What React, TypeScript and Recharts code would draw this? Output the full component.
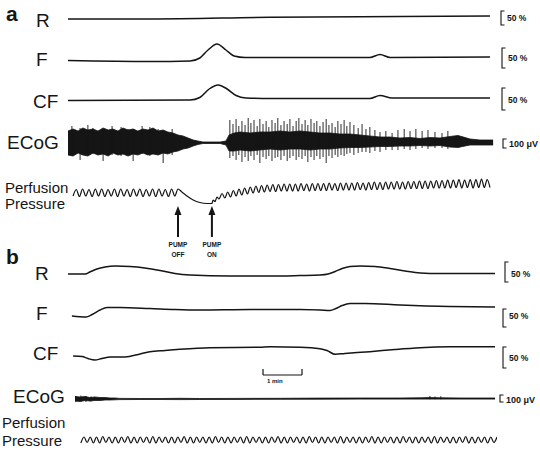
import React from 'react';
import { ComposedChart, Line, Area, XAxis, YAxis, ReferenceDot, ReferenceLine } from 'recharts';

// time in minutes from the left edge of each record (scale bar = 1 min)
// R, F, CF in % change; ECoG in µV; perfusion pressure in mmHg (arbitrary zero)

// ---- panel a ----
const rA = [[0, 2.5], [2.1, 2.5], [5.18, 6.75], [8.51, 8.75], [10.82, 10]];
const fA = [
  [0, -1.25], [2.1, -3.75], [3.13, -2.5], [3.38, 5], [3.59, 25], [3.82, 40], [4.05, 25],
  [4.26, 10], [4.54, 6.25], [5.18, 6.25], [7.74, 6.25], [8.0, 13.75], [8.26, 6.25], [10.82, 7.5],
];
const cfA = [
  [0, -1.25], [3.13, 0], [3.38, 6.25], [3.62, 27.5], [3.85, 37.5], [4.08, 27.5], [4.31, 11.25],
  [4.56, 5], [5.18, 3.75], [7.74, 3.75], [8.0, 11.25], [8.31, 5], [10.82, 5],
];
// ECoG envelope [t, upper, lower]
const ecogEnvA = [
  [0, 120, -120], [0.13, 140, -130], [0.26, 120, -100], [0.38, 150, -120], [0.51, 130, -130],
  [0.64, 140, -100], [0.77, 120, -120], [0.9, 150, -110], [1.03, 130, -130], [1.15, 140, -100],
  [1.28, 120, -120], [1.41, 150, -110], [1.54, 130, -130], [1.67, 140, -110], [1.79, 120, -120],
  [1.92, 140, -100], [2.05, 130, -120], [2.18, 150, -110], [2.31, 120, -120], [2.44, 130, -100],
  [2.56, 110, -110], [2.69, 100, -90], [2.82, 80, -80], [2.95, 70, -60], [3.08, 50, -50],
  [3.21, 30, -30], [3.33, 20, -15], [3.46, 10, -5], [3.64, 10, -5], [3.9, 10, -5], [4.05, 20, -20],
  [4.13, 80, -80], [4.26, 100, -80], [4.41, 110, -70], [4.67, 100, -80], [4.92, 110, -70],
  [5.18, 110, -60], [5.44, 120, -70], [5.69, 110, -60], [5.95, 120, -60], [6.21, 110, -70],
  [6.46, 100, -60], [6.72, 100, -60], [6.97, 90, -50], [7.23, 90, -45], [7.49, 80, -45],
  [7.74, 70, -40], [8.0, 60, -35], [8.26, 60, -35], [8.51, 50, -30], [8.77, 55, -30],
  [9.03, 45, -25], [9.28, 55, -30], [9.54, 50, -25], [9.79, 65, -40], [10.0, 75, -45],
  [10.18, 55, -30], [10.31, 40, -20], [10.56, 30, -20], [10.9, 30, -20],
];
// ECoG spikes [t, top, bottom]
const ecogSpikesA = [
  [0.1, 170, -130], [0.31, 150, -170], [0.51, 180, -120], [0.64, 150, -110], [0.9, 130, -180],
  [1.13, 170, -120], [1.36, 160, -130], [1.54, 140, -120], [1.67, 140, -180], [1.9, 170, -110],
  [2.1, 160, -130], [2.31, 140, -110], [2.44, 120, -200], [2.67, 140, -120],
  [4.15, 230, -150], [4.23, 190, -130], [4.31, 240, -170], [4.38, 170, -120], [4.46, 220, -190],
  [4.54, 180, -140], [4.62, 250, -180], [4.69, 200, -130], [4.77, 230, -170], [4.85, 170, -120],
  [4.92, 240, -200], [5.0, 190, -140], [5.08, 220, -160], [5.15, 160, -130], [5.23, 230, -180],
  [5.31, 200, -150], [5.38, 250, -140], [5.46, 180, -170], [5.54, 220, -130], [5.62, 190, -180],
  [5.69, 240, -150], [5.77, 170, -130], [5.85, 220, -170], [5.92, 250, -140], [6.0, 190, -160],
  [6.08, 230, -130], [6.15, 180, -190], [6.23, 240, -140], [6.31, 200, -170], [6.38, 220, -130],
  [6.46, 170, -160], [6.54, 210, -140], [6.62, 240, -200], [6.69, 180, -130], [6.77, 200, -150],
  [6.85, 160, -120], [6.92, 220, -140], [7.0, 190, -120], [7.08, 230, -130], [7.15, 170, -110],
  [7.23, 210, -100], [7.33, 180, -120], [7.44, 150, -100], [7.54, 190, -90], [7.64, 140, -90],
  [7.74, 160, -100], [7.87, 130, -80], [8.0, 110, -90], [8.15, 120, -70], [8.31, 100, -70],
  [8.46, 130, -70], [8.62, 140, -60], [8.77, 120, -70], [8.92, 140, -60], [9.08, 120, -50],
  [9.23, 130, -60], [9.41, 110, -50], [9.59, 100, -50], [9.74, 120, -60],
];
// perfusion pressure: cycles as [low, high] before pump off, [high, low] after pump on
const pressA1 = [
  [88, 101], [87, 102], [88, 101], [87, 102], [88, 102], [87, 101], [88, 102], [87, 102], [88, 101],
  [87, 102], [88, 102], [87, 101], [88, 102], [87, 102], [88, 101], [87, 102], [88, 102],
];
const pressA1Span = [0.13, 2.82];
const pressADrop = [
  [2.92, 96], [3.05, 88], [3.21, 80], [3.38, 75], [3.56, 73], [3.69, 73], [3.72, 80],
  [3.77, 77], [3.82, 86], [3.87, 82],
];
const pressA2 = [
  [93, 84], [96, 86], [99, 88], [102, 90], [104, 92], [106, 94], [108, 95], [109, 96], [110, 97],
  [111, 97], [111, 98], [112, 98], [112, 98], [112, 98], [113, 99], [112, 98], [113, 99], [113, 99],
  [113, 99], [114, 100], [113, 99], [114, 100], [114, 100], [114, 100], [115, 101], [114, 100],
  [115, 101], [116, 101], [115, 101], [116, 102], [116, 102], [117, 102], [116, 102], [117, 103],
  [117, 103], [118, 103], [118, 103], [118, 104], [119, 104], [119, 104], [120, 104], [120, 105],
  [121, 104], [120, 105], [121, 104], [121, 105], [122, 105], [121, 105],
];
const pressA2Span = [3.95, 10.82];
const pumpEvents = [{ t: 2.82, word: 'OFF' }, { t: 3.69, word: 'ON' }];

// ---- panel b ----
const rB = [
  [0, -10], [0.44, -10], [0.56, -5], [0.74, 2.5], [0.95, 7.5], [1.21, 10], [1.59, 8.75], [1.97, 5],
  [2.36, -1.25], [2.74, -8.75], [3.13, -12.5], [4.15, -15], [5.18, -15], [5.95, -13.75], [6.46, -12.5],
  [6.67, -10], [6.85, -3.75], [7.03, 3.75], [7.23, 8.75], [7.49, 10], [7.87, 8.75], [8.26, 3.75],
  [8.64, -2.5], [9.03, -7.5], [9.54, -8.75], [10.95, -8.75],
];
const fB = [
  [0.1, -10], [0.46, -12.5], [0.62, -6.25], [0.82, 5], [1.0, 11.25], [1.33, 11.25], [2.1, 8.75],
  [2.74, 6.25], [3.38, 5], [4.67, 6.25], [5.95, 6.25], [6.46, 5], [6.72, 3.75], [6.87, 8.75],
  [7.03, 16.25], [7.23, 21.25], [7.62, 21.25], [8.51, 17.5], [9.79, 13.75], [10.95, 12.5],
];
const cfB = [
  [0.13, -10], [0.36, -11.25], [0.51, -16.25], [0.69, -20], [0.87, -16.25], [1.08, -12.5],
  [1.46, -12.5], [1.85, -5], [2.1, 0.75], [2.49, 3.75], [2.87, 6.75], [3.64, 10.75], [4.92, 11.75],
  [5.18, 13], [5.95, 12], [6.46, 8.25], [6.64, 3.75], [6.85, -5.75], [7.1, -3.75], [7.74, 0.75],
  [8.38, 6.25], [9.03, 10.75], [9.79, 13], [10.95, 13.25],
];
const ecogEnvB = [
  [0.18, 25, -20], [0.31, 20, -25], [0.44, 25, -15], [0.56, 15, -20], [0.69, 20, -15], [0.82, 15, -15],
  [0.95, 15, -10], [1.08, 10, -10], [1.21, 10, -8], [1.33, 6, -6], [1.85, 5, -5], [2.36, 5, -5],
  [2.87, 7, -6], [3.38, 5, -5], [4.41, 6, -4], [5.44, 7, -3], [6.46, 9, -2], [7.49, 10, -1],
  [8.51, 10, -1], [9.03, 12, -1], [9.28, 14, -1], [9.54, 12, -1], [10.05, 10, -1], [10.95, 10, -1],
];
const ecogSpikesB = [
  [0.2, 30, -30], [0.33, 35, -25], [0.46, 30, -30], [0.59, 25, -25],
  [9.28, 30, -3], [9.41, 25, -3], [9.56, 28, -3],
];
const pressB = [
  [34, 46], [35, 46], [34, 46], [34, 47], [35, 46], [34, 46], [34, 46], [35, 47], [34, 46], [34, 46],
  [35, 46], [34, 47], [34, 46], [35, 46], [34, 46], [34, 46], [35, 47], [34, 46], [34, 46], [35, 46],
  [34, 46], [34, 47], [35, 46], [34, 46], [34, 46], [35, 46], [34, 47], [34, 46], [35, 46], [34, 46],
  [34, 46], [35, 47], [34, 46], [34, 46], [35, 46], [34, 46], [34, 47], [35, 46], [34, 46], [34, 46],
  [35, 46], [34, 47], [34, 46], [35, 46], [34, 46], [34, 46], [35, 47], [34, 46], [34, 46], [35, 46],
  [34, 46], [34, 47], [35, 46], [34, 46], [34, 46], [35, 46], [34, 47], [34, 46], [35, 46], [34, 46],
  [34, 46], [35, 47], [34, 46], [34, 46], [35, 46], [34, 46], [35, 46],
];
const pressBSpan = [0.33, 11.0];

// ---- helpers ----
const X0 = 68;
const PLOT_W = 429;
const MINUTES = [0, 11];
const INK = '#151515';
const FONT = '"Liberation Sans", Arial, Helvetica, sans-serif';

const pts = (arr) => arr.map(([t, v]) => ({ t, v }));
const band = (arr) => arr.map(([t, hi, lo]) => ({ t, r: [lo, hi] }));
const spikes = (arr) => arr.flatMap(([t, hi, lo]) => [{ t, v: hi }, { t, v: lo }, { t, v: null }]);
const wave = (pairs, [t0, t1]) => {
  const vals = pairs.flat();
  const step = (t1 - t0) / (vals.length - 1);
  return vals.map((v, i) => ({ t: t0 + i * step, v }));
};

const pressAData = [...wave(pressA1, pressA1Span), ...pts(pressADrop), ...wave(pressA2, pressA2Span)];
const pressBData = wave(pressB, pressBSpan);

const Trace = ({ top, height, domain, children }) => (
  <div style={{ position: 'absolute', left: X0, top, width: PLOT_W, height }}>
    <ComposedChart width={PLOT_W} height={height} margin={{ top: 0, right: 0, bottom: 0, left: 0 }}>
      <XAxis type="number" dataKey="t" domain={MINUTES} hide allowDataOverflow />
      <YAxis type="number" domain={domain} hide allowDataOverflow />
      {children}
    </ComposedChart>
  </div>
);

const curve = (data, w = 1.5) => (
  <Line data={data} dataKey="v" type="monotone" stroke={INK} strokeWidth={w} dot={false} activeDot={false} isAnimationActive={false} />
);

const ecog = (env, sp) => [
  <Area key="env" data={band(env)} dataKey="r" type="linear" fill={INK} fillOpacity={1} stroke={INK} strokeWidth={0.8} dot={false} activeDot={false} isAnimationActive={false} />,
  <Line key="sp" data={spikes(sp)} dataKey="v" type="linear" stroke={INK} strokeWidth={0.9} dot={false} activeDot={false} isAnimationActive={false} />,
];

const PumpArrow = ({ cx, cy, word }) => (
  <g>
    <path d={`M${cx},${cy} L${cx - 3.5},${cy + 9} L${cx + 3.5},${cy + 9} Z`} fill={INK} />
    <line x1={cx} y1={cy + 8} x2={cx} y2={cy + 31} stroke={INK} strokeWidth={2} />
    <text x={cx} y={cy + 41} textAnchor="middle" fontSize={6.5} fontWeight="bold" fontFamily={FONT} fill={INK}>PUMP</text>
    <text x={cx} y={cy + 51} textAnchor="middle" fontSize={6.5} fontWeight="bold" fontFamily={FONT} fill={INK}>{word}</text>
  </g>
);

const Bracket = ({ x, y1, y2, label, ty }) => (
  <g>
    <path d={`M${x + 3.5},${y1} L${x},${y1} L${x},${y2} L${x + 3.5},${y2}`} fill="none" stroke={INK} strokeWidth={1.1} />
    <text x={x + 6} y={ty} fontSize={label.includes('V') ? 9 : 8.5} fontWeight="bold" fontFamily={FONT} fill={INK}>{label}</text>
  </g>
);

const labelStyle = { fontFamily: FONT, fill: INK };

export default function App() {
  return (
    <div style={{ position: 'absolute', left: 0, top: 0, width: 540, height: 453, background: '#fff', overflow: 'hidden' }}>
      {/* panel a */}
      <Trace top={0} height={40} domain={[-50, 50]}>{curve(pts(rA))}</Trace>
      <Trace top={40} height={40} domain={[-50, 50]}>{curve(pts(fA))}</Trace>
      <Trace top={80} height={40} domain={[-50, 50]}>{curve(pts(cfA))}</Trace>
      <Trace top={113} height={60} domain={[-300, 300]}>{ecog(ecogEnvA, ecogSpikesA)}</Trace>
      <Trace top={170} height={95} domain={[-50, 140]}>
        {curve(pressAData, 1.2)}
        {pumpEvents.map((e) => (
          <ReferenceDot key={e.word} x={e.t} y={68} r={0} ifOverflow="visible"
            shape={(p) => <PumpArrow cx={p.cx} cy={p.cy} word={e.word} />} />
        ))}
      </Trace>

      {/* panel b */}
      <Trace top={250} height={40} domain={[-50, 50]}>{curve(pts(rB))}</Trace>
      <Trace top={292} height={40} domain={[-50, 50]}>{curve(pts(fB))}</Trace>
      <Trace top={332} height={56} domain={[-90, 50]}>
        {curve(pts(cfB))}
        <ReferenceLine segment={[{ x: 5, y: -57.5 }, { x: 6, y: -57.5 }]} stroke={INK} strokeWidth={1.2} ifOverflow="visible" />
        <ReferenceLine segment={[{ x: 5, y: -57.5 }, { x: 5, y: -42.5 }]} stroke={INK} strokeWidth={1.2} ifOverflow="visible" />
        <ReferenceLine segment={[{ x: 6, y: -57.5 }, { x: 6, y: -42.5 }]} stroke={INK} strokeWidth={1.2} ifOverflow="visible" />
        <ReferenceDot x={5.1} y={-77.5} r={0} ifOverflow="visible"
          shape={(p) => <text x={p.cx} y={p.cy} fontSize={6} fontWeight="bold" fontFamily={FONT} fill={INK}>1 min</text>} />
      </Trace>
      <Trace top={384} height={30} domain={[-150, 150]}>{ecog(ecogEnvB, ecogSpikesB)}</Trace>
      <Trace top={425} height={25} domain={[20, 70]}>{curve(pressBData, 1.2)}</Trace>

      <svg width={540} height={453} style={{ position: 'absolute', left: 0, top: 0, pointerEvents: 'none' }}>
        <text x={6} y={21} fontSize={21} fontWeight="bold" {...labelStyle}>a</text>
        <text x={36} y={27} fontSize={19} {...labelStyle}>R</text>
        <text x={36} y={65.5} fontSize={19} {...labelStyle}>F</text>
        <text x={33} y={108} fontSize={19} {...labelStyle}>CF</text>
        <text x={7} y={148.5} fontSize={19} {...labelStyle}>ECoG</text>
        <text x={5} y={193} fontSize={15} {...labelStyle}>Perfusion</text>
        <text x={5} y={209} fontSize={15} {...labelStyle}>Pressure</text>

        <text x={6} y={264} fontSize={21} fontWeight="bold" {...labelStyle}>b</text>
        <text x={35} y={280} fontSize={19} {...labelStyle}>R</text>
        <text x={36} y={320} fontSize={19} {...labelStyle}>F</text>
        <text x={33} y={360} fontSize={19} {...labelStyle}>CF</text>
        <text x={13} y={403} fontSize={19} {...labelStyle}>ECoG</text>
        <text x={2} y={428} fontSize={15} {...labelStyle}>Perfusion</text>
        <text x={2} y={446} fontSize={15} {...labelStyle}>Pressure</text>

        <Bracket x={501} y1={11} y2={25} label="50 %" ty={20.5} />
        <Bracket x={502} y1={48} y2={68} label="50 %" ty={60.5} />
        <Bracket x={502} y1={88} y2={110} label="50 %" ty={103} />
        <Bracket x={503} y1={139} y2={148} label="100 μV" ty={147} />
        <Bracket x={505} y1={262} y2={282} label="50 %" ty={276.5} />
        <Bracket x={503} y1={309} y2={327} label="50 %" ty={319} />
        <Bracket x={503} y1={347} y2={368} label="50 %" ty={361} />
        <Bracket x={500} y1={395} y2={402} label="100 μV" ty={402.5} />
      </svg>
    </div>
  );
}
